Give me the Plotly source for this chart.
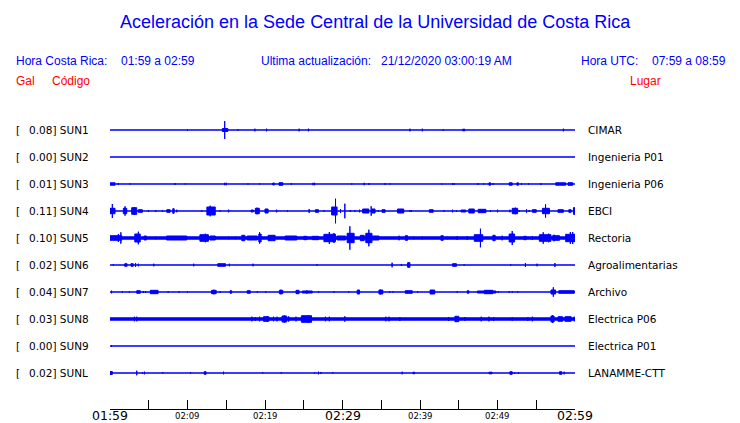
import plotly.graph_objects as go

# ---------------- data ----------------
STATIONS = ["SUN1", "SUN2", "SUN3", "SUN4", "SUN5", "SUN6", "SUN7", "SUN8", "SUN9", "SUNL"]
PEAK_GAL = [0.08, 0.00, 0.01, 0.11, 0.10, 0.02, 0.04, 0.03, 0.00, 0.02]
PLACES = ["CIMAR", "Ingenieria P01", "Ingenieria P06", "EBCI", "Rectoria",
          "Agroalimentarias", "Archivo", "Electrica P06", "Electrica P01", "LANAMME-CTT"]
# background noise half-amplitude per station (same units as event amplitudes)
NOISE = [0.1, 0.1, 0.1, 0.1, 1.2, 0.1, 0.1, 1.2, 0.1, 0.1]

TICK_MINUTES = [0, 10, 20, 30, 40, 50, 60]
TICK_LABELS = ["01:59", "02:09", "02:19", "02:29", "02:39", "02:49", "02:59"]
MAJOR_TICKS = ["01:59", "02:29", "02:59"]

# events: (minute, amplitude) spikes or (start, end, amplitude) bursts; minutes after 01:59
SUN1_EVENTS = [(10.0, 1.0), (14.5, 15.2, 1.5), (14.8, 9.0), (16.5, 0.7), (18.7, 1.3), (20.2, 1.3),
               (24.4, 1.3), (25.6, 1.3), (38.7, 1.3), (40.3, 1.3), (43.0, 0.7), (45.5, 45.8, 0.8),
               (58.5, 1.3)]
SUN2_EVENTS = []
SUN3_EVENTS = [(0.0, 0.65, 1.2), (1.08, 1.0), (2.58, 0.6), (8.4, 1.0), (9.7, 0.5), (14.8, 1.2),
               (15.0, 1.2), (17.8, 0.6), (19.3, 0.6), (21.0, 21.2, 1.0), (21.8, 22.3, 1.3), (23.4, 1.0),
               (26.2, 1.2), (26.4, 1.2), (31.2, 0.6), (32.8, 1.2), (33.4, 1.0), (35.5, 1.0), (36.1, 0.5),
               (42.8, 0.5), (44.2, 1.0), (44.4, 1.0), (47.5, 1.0), (48.2, 0.7), (48.9, 49.1, 1.2),
               (49.4, 1.0), (51.5, 51.9, 1.2), (52.5, 52.7, 1.2), (53.1, 1.0), (54.0, 0.7), (55.6, 1.0),
               (57.5, 58.8, 1.2), (59.1, 59.7, 1.3)]
SUN4_EVENTS = [(0.0, 0.65, 2.7), (0.3, 7.0), (1.72, 2.16, 2.7), (1.94, 4.7), (2.8, 3.45, 3.3), (3.15, 4.0),
               (3.66, 4.18, 1.3), (4.96, 1.0), (5.9, 1.0), (6.77, 0.7), (7.33, 7.76, 1.3), (8.1, 8.28, 2.3),
               (8.62, 1.3), (11.85, 0.7), (12.5, 13.58, 4.0), (12.93, 5.3), (14.2, 0.7), (15.3, 1.3),
               (18.2, 18.5, 1.0), (18.75, 19.27, 2.7), (18.97, 3.3), (20.0, 20.4, 2.0), (21.5, 1.3),
               (22.9, 0.7), (25.7, 2.0), (26.5, 26.9, 1.3), (27.6, 0.7), (28.6, 29.3, 4.0), (29.1, 12.3),
               (29.74, 2.0), (30.3, 7.3), (31.0, 1.0), (31.6, 0.7), (32.2, 1.3), (32.6, 33.4, 2.0),
               (33.7, 4.7), (33.8, 34.2, 2.0), (34.6, 0.7), (35.1, 35.5, 1.3), (37.1, 37.9, 2.0),
               (38.7, 1.0), (38.9, 1.0), (41.2, 41.7, 1.3), (43.1, 0.7), (44.2, 1.3), (44.7, 0.7),
               (45.3, 45.9, 1.0), (46.3, 47.0, 2.0), (47.5, 48.5, 1.7), (49.1, 0.7), (50.0, 1.3),
               (51.6, 1.3), (51.9, 52.6, 2.7), (52.3, 3.3), (52.8, 0.7), (53.75, 1.7), (54.1, 1.0),
               (54.5, 55.0, 1.3), (55.8, 56.7, 2.7), (56.2, 6.7), (57.8, 58.5, 1.3), (59.2, 59.5, 1.3),
               (59.8, 60.0, 3.3)]
SUN5_EVENTS = [(0.0, 1.5, 2.3), (1.08, 4.0), (1.4, 5.7), (3.2, 3.9, 4.0), (3.66, 6.3), (4.4, 4.7, 2.0),
               (5.9, 1.3), (7.3, 9.9, 2.0), (11.6, 12.7, 3.3), (12.3, 4.3), (12.9, 13.6, 2.0), (15.3, 1.3),
               (16.2, 1.3), (17.0, 17.4, 2.7), (17.7, 19.0, 2.0), (19.2, 19.5, 4.0), (19.3, 5.7),
               (20.4, 21.3, 2.7), (22.6, 24.1, 2.0), (25.0, 25.4, 1.7), (26.1, 26.9, 1.7),
               (27.6, 29.1, 3.7), (28.3, 6.0), (28.9, 5.0), (29.3, 30.4, 2.0), (30.6, 31.5, 4.7),
               (30.95, 11.7), (32.3, 32.8, 2.7), (33.0, 33.8, 4.7), (33.4, 8.3), (33.8, 34.7, 2.0),
               (37.3, 2.3), (38.1, 38.4, 2.3), (39.2, 1.3), (40.3, 1.3), (42.7, 43.0, 2.3), (43.5, 1.3),
               (44.8, 2.0), (46.1, 2.0), (47.0, 48.1, 3.3), (47.8, 9.3), (49.4, 49.7, 2.7), (50.6, 2.3),
               (51.5, 52.2, 4.0), (51.9, 7.0), (53.4, 53.7, 1.7), (54.5, 2.0), (55.4, 56.9, 3.3),
               (55.9, 5.7), (56.6, 4.3), (57.1, 58.0, 2.3), (57.3, 3.3), (58.8, 60.0, 3.7), (59.4, 6.0),
               (59.7, 6.0)]
SUN6_EVENTS = [(0.43, 0.7), (1.9, 2.2, 1.3), (2.7, 3.0, 1.3), (3.3, 2.0), (3.66, 1.3), (5.65, 1.3),
               (10.8, 1.3), (13.9, 14.9, 1.3), (15.4, 1.3), (18.45, 1.3), (26.7, 0.7), (36.4, 2.3),
               (37.6, 1.0), (38.4, 38.7, 2.3), (44.2, 44.7, 1.3), (45.7, 0.7), (51.7, 0.7), (53.6, 2.0),
               (55.1, 1.3), (57.4, 2.0)]
SUN7_EVENTS = [(0.2, 1.3), (1.6, 0.7), (2.5, 0.7), (3.45, 3.9, 1.3), (4.3, 1.0), (4.6, 1.0),
               (5.2, 6.2, 1.7), (7.5, 0.7), (8.9, 0.7), (10.0, 0.7), (13.1, 13.7, 1.7), (13.4, 2.3),
               (14.2, 0.7), (15.5, 15.7, 1.3), (17.7, 18.1, 1.3), (19.0, 0.7), (20.1, 0.7),
               (21.85, 22.3, 1.7), (22.05, 2.3), (24.0, 24.4, 1.7), (24.8, 26.1, 1.0), (25.4, 1.7),
               (26.9, 0.7), (28.9, 0.7), (30.8, 0.7), (31.9, 32.2, 2.0), (34.7, 35.2, 2.0), (34.9, 2.3),
               (36.1, 0.7), (36.5, 0.7), (38.1, 39.0, 1.3), (39.7, 0.7), (41.3, 41.9, 2.0), (44.8, 0.7),
               (46.1, 46.3, 1.3), (47.4, 49.8, 1.0), (48.3, 49.4, 1.7), (50.1, 0.7), (51.5, 0.7),
               (51.9, 0.7), (52.6, 0.7), (56.9, 57.5, 2.0), (57.2, 4.7), (57.9, 59.9, 1.3)]
SUN8_EVENTS = [(3.15, 2.3), (3.45, 2.3), (18.3, 2.3), (18.75, 2.0), (19.3, 2.3), (19.8, 20.5, 2.3),
               (20.3, 2.7), (21.1, 2.3), (21.55, 2.3), (22.2, 22.8, 3.0), (22.5, 3.7), (23.0, 23.1, 2.3),
               (24.0, 2.3), (24.7, 26.0, 3.3), (25.6, 3.7), (27.8, 2.3), (28.3, 2.3), (30.3, 2.7),
               (35.6, 2.3), (36.0, 2.3), (37.4, 2.0), (43.7, 2.0), (44.5, 45.0, 2.7), (45.8, 2.0),
               (47.9, 2.3), (48.9, 2.3), (49.5, 2.0), (51.9, 1.7), (53.9, 2.0), (54.5, 2.3),
               (56.9, 57.3, 3.0), (57.1, 4.0), (57.8, 58.4, 2.3), (58.7, 59.5, 2.3), (59.9, 2.3)]
SUN9_EVENTS = [(0.2, 0.8)]
SUNL_EVENTS = [(0.0, 0.3, 1.5), (3.45, 2.3), (4.2, 1.0), (4.45, 1.3), (6.8, 0.7), (10.4, 0.7),
               (12.15, 12.4, 1.3), (14.65, 1.3), (19.7, 0.7), (22.1, 0.7), (26.4, 0.7), (26.9, 1.3),
               (27.2, 1.0), (28.75, 0.7), (37.7, 1.3), (39.1, 39.3, 0.8), (48.9, 49.3, 0.8),
               (51.6, 51.9, 1.3), (52.2, 1.0), (52.7, 1.0), (58.0, 58.3, 1.3), (58.6, 1.3)]

EVENTS = [SUN1_EVENTS, SUN2_EVENTS, SUN3_EVENTS, SUN4_EVENTS, SUN5_EVENTS,
          SUN6_EVENTS, SUN7_EVENTS, SUN8_EVENTS, SUN9_EVENTS, SUNL_EVENTS]

# ---------------- layout constants ----------------
PAGE_OFF = 8          # default page body margin
W, H = 740 - PAGE_OFF, 423 - PAGE_OFF
ROW_GAP = 27
BLUE = "#0000ff"
RED = "#ff0000"
HDR_FONT = "Liberation Sans, Arial, sans-serif"
LBL_FONT = "DejaVu Sans, sans-serif"


def px(xp):
    return (xp - PAGE_OFF) / W


def py(yp):
    return 1 - (yp - PAGE_OFF) / H


fig = go.Figure()

for i, evs in enumerate(EVENTS):
    base = -i * ROW_GAP
    xs, ys = [], []
    segs = [(0, 60, NOISE[i])]
    for e in evs:
        if len(e) == 2:
            segs.append((e[0], e[0], e[1]))
        else:
            segs.append(e)
    for t0, t1, a in segs:
        xs += [t0, t0, t1, t1, t0, None]
        ys += [base - a, base + a, base + a, base - a, base - a, None]
    fig.add_trace(go.Scatter(x=xs, y=ys, mode="lines", fill="toself", fillcolor=BLUE,
                             line=dict(color=BLUE, width=1), hoverinfo="skip", showlegend=False))

annotations = []


def ann(text, x, y, size, color, family, xanchor="left", xref="paper"):
    annotations.append(dict(text=text, x=x, y=y, xref=xref, yref="paper", showarrow=False,
                            xanchor=xanchor, yanchor="middle", borderpad=0,
                            font=dict(size=size, color=color, family=family)))


# title & header
ann("Aceleración en la Sede Central de la Universidad de Costa Rica", px(375.5), py(22), 18, BLUE,
    HDR_FONT, xanchor="center")
ann("Hora Costa Rica:", px(15), py(61), 12, BLUE, HDR_FONT)
ann("01:59 a 02:59", px(120), py(61), 12, BLUE, HDR_FONT)
ann("Ultima actualización:", px(260), py(61), 12, BLUE, HDR_FONT)
ann("21/12/2020 03:00:19 AM", px(380), py(61), 12, BLUE, HDR_FONT)
ann("Hora UTC:", px(580), py(61), 12, BLUE, HDR_FONT)
ann("07:59 a 08:59", px(651), py(61), 12, BLUE, HDR_FONT)
ann("Gal", px(15), py(81), 12, RED, HDR_FONT)
ann("Código", px(51), py(81), 12, RED, HDR_FONT)
ann("Lugar", px(629), py(81), 12, RED, HDR_FONT)

# row labels
for i, code in enumerate(STATIONS):
    yrow = 130.3 + i * ROW_GAP
    ann("[", px(15), py(yrow), 10.5, "black", LBL_FONT)
    ann(f"{PEAK_GAL[i]:.2f}] {code}", px(27.5), py(yrow), 10.5, "black", LBL_FONT)
    ann(PLACES[i], px(587), py(yrow), 10.5, "black", LBL_FONT)

# time tick labels
for m, lab in zip(TICK_MINUTES, TICK_LABELS):
    big = lab in MAJOR_TICKS
    ann(lab, m, py(415.5 if big else 416), 12.5 if big else 8.5, "black", LBL_FONT,
        xanchor="center", xref="x")

fig.update_layout(
    width=W, height=H, autosize=False,
    margin=dict(l=0, r=0, t=0, b=0, pad=0),
    paper_bgcolor="white", plot_bgcolor="white",
    annotations=annotations,
    xaxis=dict(domain=[px(110), px(575)], range=[0, 60], anchor="free", position=py(409),
               showline=True, linecolor="black", linewidth=1, ticks="inside", ticklen=9,
               tickcolor="black", tickwidth=1, tickmode="linear", tick0=0, dtick=5,
               showticklabels=False, showgrid=False, zeroline=False, fixedrange=True),
    yaxis=dict(domain=[py(400), py(100)], range=[-270, 30], visible=False, showgrid=False,
               zeroline=False, fixedrange=True),
)

fig.write_html("out.html")
